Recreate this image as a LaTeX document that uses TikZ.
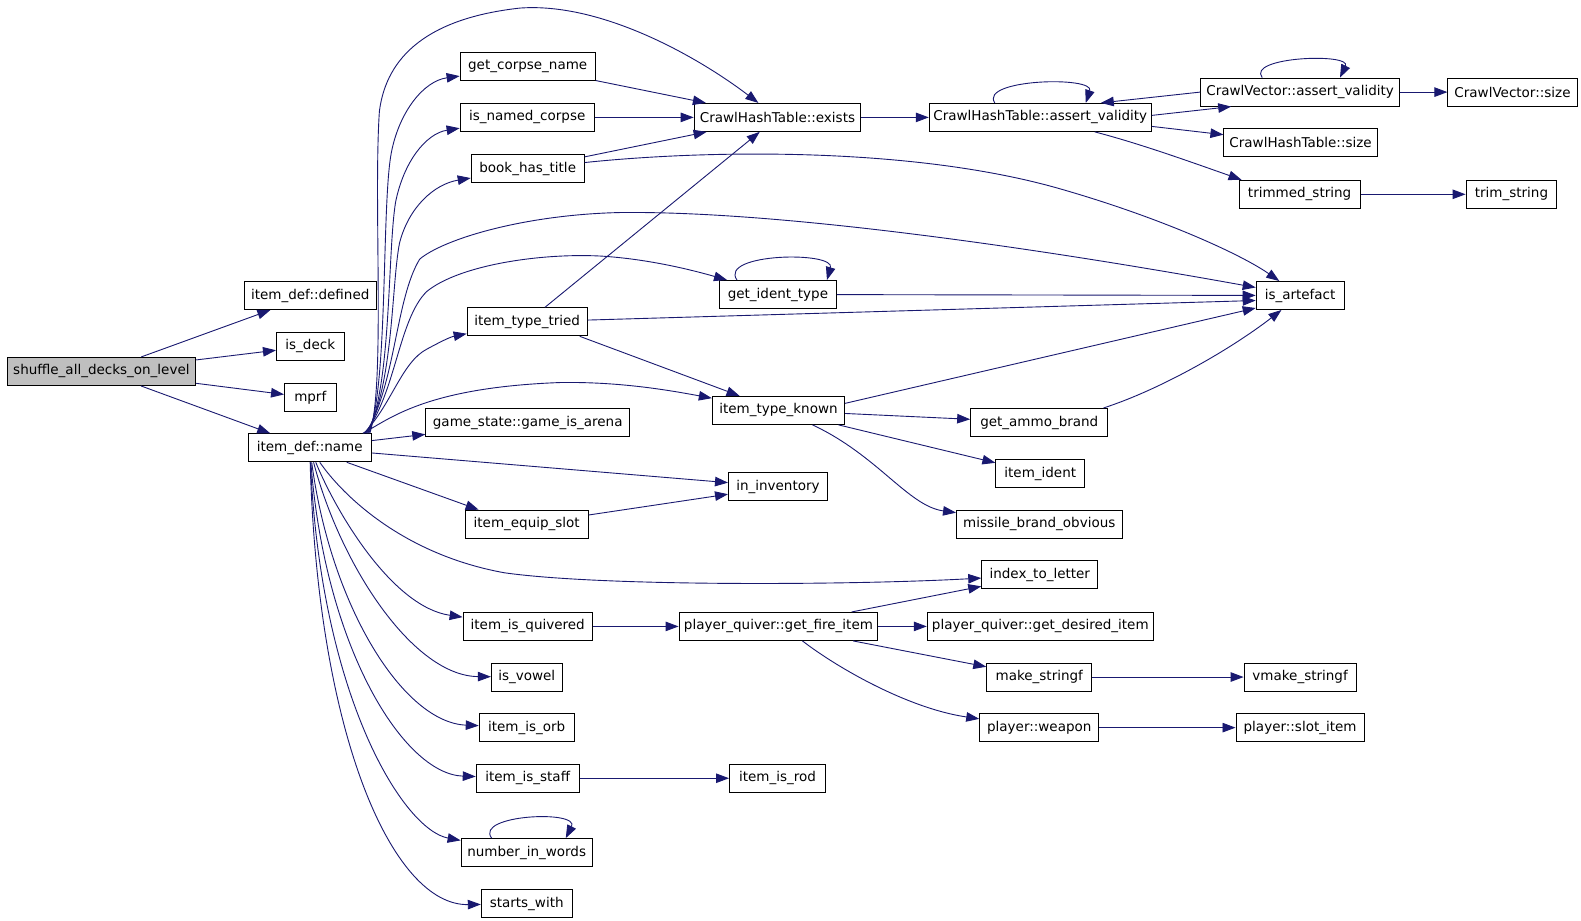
\documentclass[tikz,border=0pt]{standalone}
\usepackage{fontspec}
\setmainfont{DejaVu Sans}
\usetikzlibrary{arrows.meta}
\definecolor{edgecol}{HTML}{191970}
\definecolor{startfill}{HTML}{BFBFBF}
\begin{document}
\begin{tikzpicture}[x=1.009pt,y=-1.012pt,
  box/.style={draw=black,line width=1pt,fill=white,minimum height=28pt,inner sep=0pt,
    font=\fontsize{13.5}{15}\selectfont,minimum width=1.009*#1pt},
  e/.style={draw=edgecol,line width=0.9pt,-{Triangle[length=13pt,width=9.5pt]}}]
\fill[white] (0,0) rectangle (1566.9,909.1);
\useasboundingbox (0,0) rectangle (1566.9,909.1);
% nodes
\node[box=187,fill=startfill] (S) at (100.5,367) {shuffle\_all\_decks\_on\_level};
\node[box=131] (defined) at (307.5,292) {item\_def::defined};
\node[box=67] (isdeck) at (307.5,342) {is\_deck};
\node[box=51] (mprf) at (307.5,393) {mprf};
\node[box=122] (name) at (307,442.5) {item\_def::name};
\node[box=134] (gcn) at (523,66) {get\_corpse\_name};
\node[box=133] (inc) at (522.5,116) {is\_named\_corpse};
\node[box=112] (bht) at (523,166.5) {book\_has\_title};
\node[box=119] (itt) at (522.5,318) {item\_type\_tried};
\node[box=202] (gia) at (523,417.5) {game\_state::game\_is\_arena};
\node[box=122] (ies) at (522,518) {item\_equip\_slot};
\node[box=128] (iiq) at (523,619) {item\_is\_quivered};
\node[box=70] (isv) at (522,669) {is\_vowel};
\node[box=94] (iio) at (522,719) {item\_is\_orb};
\node[box=102] (iis) at (523,769) {item\_is\_staff};
\node[box=130] (niw) at (522,842.5) {number\_in\_words};
\node[box=90] (stw) at (522,893) {starts\_with};
\node[box=165] (exists) at (770.5,116) {CrawlHashTable::exists};
\node[box=116] (git) at (771,291) {get\_ident\_type};
\node[box=131] (itk) at (771.5,405.5) {item\_type\_known};
\node[box=98] (inv) at (771,481) {in\_inventory};
\node[box=197] (gfi) at (771.5,619) {player\_quiver::get\_fire\_item};
\node[box=95] (iir) at (770.5,769) {item\_is\_rod};
\node[box=220] (hta) at (1031,116) {CrawlHashTable::assert\_validity};
\node[box=136] (gab) at (1030,417.5) {get\_ammo\_brand};
\node[box=88] (iid) at (1031,468) {item\_ident};
\node[box=164] (mbo) at (1030,518) {missile\_brand\_obvious};
\node[box=115] (itl) at (1030.5,568) {index\_to\_letter};
\node[box=224] (gdi) at (1031,619) {player\_quiver::get\_desired\_item};
\node[box=104] (mks) at (1030,669) {make\_stringf};
\node[box=118] (wpn) at (1030,719) {player::weapon};
\node[box=197] (cva) at (1288.5,91) {CrawlVector::assert\_validity};
\node[box=152] (hts) at (1289,141) {CrawlHashTable::size};
\node[box=120] (tms) at (1288,192) {trimmed\_string};
\node[box=87] (art) at (1288.5,292) {is\_artefact};
\node[box=111] (vms) at (1288.5,669) {vmake\_stringf};
\node[box=127] (psi) at (1288.5,719) {player::slot\_item};
\node[box=128] (cvs) at (1499,91) {CrawlVector::size};
\node[box=90] (trs) at (1498,192) {trim\_string};
% edges from start
\draw[e] (S) -- (defined);
\draw[e] (S) -- (isdeck);
\draw[e] (S) -- (mprf);
\draw[e] (S) -- (name);
% edges from item_def::name, upward bundle
\draw[e] ([xshift=-2pt]name.north east) .. controls (382,380) and (370,200) .. (376,110)
   .. controls (383,55) and (425,18) .. (515,8) .. controls (595,2) and (690,55) .. (exists);
\draw[e] ([xshift=-3pt]name.north east) .. controls (385,380) and (378,200) .. (388,150)
   .. controls (396,110) and (420,80) .. (gcn);
\draw[e] ([xshift=-4pt]name.north east) .. controls (388,380) and (384,250) .. (392,200)
   .. controls (400,160) and (422,132) .. (inc);
\draw[e] ([xshift=-5pt]name.north east) .. controls (390,380) and (388,280) .. (396,240)
   .. controls (405,205) and (430,182) .. (bht);
\draw[e] ([xshift=-6pt]name.north east) .. controls (392,380) and (392,295) .. (416,256)
   .. controls (440,236) and (520,212) .. (615,210) .. controls (800,208) and (1100,258) .. (art);
\draw[e] ([xshift=-7pt]name.north east) .. controls (392,390) and (395,315) .. (423,288)
   .. controls (455,262) and (535,250) .. (595,253) .. controls (645,256) and (690,268) .. (git);
\draw[e] ([xshift=-8pt]name.north east) .. controls (388,400) and (398,358) .. (423,345)
   .. controls (436,338) and (446,333) .. (itt);
\draw[e] ([xshift=-9pt]name.north east) .. controls (385,415) and (420,383) .. (555,378)
   .. controls (615,377) and (665,386) .. (itk);
% item_def::name, rightward and downward
\draw[e] (name) -- (gia);
\draw[e] (name) -- (inv);
\draw[e] ([xshift=-25pt]name.south east) -- ([xshift=14pt]ies.north west);
\draw[e] (name) .. controls (340,490) and (400,548) .. (500,566)
   .. controls (600,580) and (850,578) .. (itl);
\draw[e] (name) .. controls (335,510) and (390,600) .. (iiq);
\draw[e] (name) .. controls (338,560) and (410,668) .. (isv);
\draw[e] (name) .. controls (328,600) and (400,714) .. (iio);
\draw[e] (name) .. controls (322,640) and (400,765) .. (iis);
\draw[e] (name) .. controls (318,690) and (400,820) .. (niw);
\draw[e] (name) .. controls (315,730) and (390,895) .. (stw);
% second column
\draw[e] (gcn) -- (exists);
\draw[e] (inc) -- (exists);
\draw[e] (bht) -- (exists);
\draw[e] (bht) .. controls (700,148) and (900,145) .. (1045,185)
   .. controls (1145,213) and (1228,250) .. (art);
\draw[e] (itt) -- (exists);
\draw[e] (itt) -- ([yshift=-5pt]art.west);
\draw[e] ([xshift=-8pt]itt.south east) -- (itk);
\draw[e] (ies) -- (inv);
\draw[e] (iiq) -- (gfi);
\draw[e] (iis) -- (iir);
\draw[e] ([xshift=31pt]niw.north west) .. controls (470,805) and (575,800) .. ([xshift=-27pt]niw.north east);
% third column
\draw[e] ([xshift=18pt]git.north west) .. controls (712,250) and (828,248) .. ([xshift=-10pt]git.north east);
\draw[e] (git) -- (art);
\draw[e] ([yshift=7pt]itk.east) -- ([yshift=2pt]art.south west);
\draw[e] (itk) -- (gab);
\draw[e] (itk) -- (iid);
\draw[e] ([xshift=34pt]itk.south) .. controls (870,450) and (900,500) .. (mbo);
\draw[e] (gfi) -- (itl);
\draw[e] (gfi) -- (gdi);
\draw[e] (gfi) -- (mks);
\draw[e] ([xshift=24pt]gfi.south) .. controls (830,660) and (900,700) .. (wpn);
\draw[e] (exists) -- (hta);
% fourth column
\draw[e] ([xshift=-5pt]gab.north east) .. controls (1150,385) and (1220,345) .. (art);
\draw[e] (mks) -- (vms);
\draw[e] (wpn) -- (psi);
\draw[e] ([xshift=66pt]hta.north west) .. controls (970,78) and (1085,75) .. ([xshift=-66pt]hta.north east);
\draw[e] ([yshift=2pt]hta.east) -- ([xshift=31pt]cva.south west);
\draw[e] (cva.west) -- ([xshift=-51pt]hta.north east);
\draw[e] ([yshift=-9pt]hta.east) -- ([yshift=8pt]hts.west);
\draw[e] ([xshift=-57pt]hta.south east) .. controls (1130,142) and (1180,160) .. ([xshift=3pt]tms.north west);
% fifth column
\draw[e] ([xshift=62pt]cva.north west) .. controls (1235,56) and (1340,52) .. ([xshift=-60pt]cva.north east);
\draw[e] (cva) -- (cvs);
\draw[e] (tms) -- (trs);
\end{tikzpicture}
\end{document}
